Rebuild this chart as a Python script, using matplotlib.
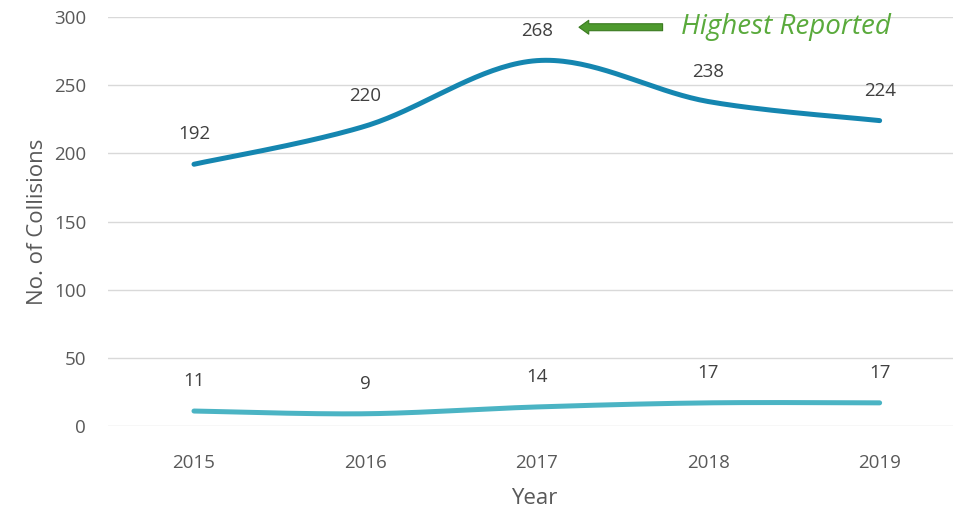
import numpy as np
import matplotlib.pyplot as plt

years = ['2015', '2016', '2017', '2018', '2019']
total = [192, 220, 268, 238, 224]
other = [11, 9, 14, 17, 17]


def smooth(y, n=40):
    # Excel-style smoothed line (Catmull-Rom through the points)
    y = np.asarray(y, dtype=float)
    x = np.arange(len(y), dtype=float)
    p = np.column_stack([x, y])
    p = np.vstack([p[0], p, p[-1]])
    out = []
    t = np.linspace(0, 1, n)[:, None]
    for i in range(1, len(p) - 2):
        p0, p1, p2, p3 = p[i - 1], p[i], p[i + 1], p[i + 2]
        c1 = p1 + (p2 - p0) / 6
        c2 = p2 - (p3 - p1) / 6
        seg = ((1 - t) ** 3) * p1 + 3 * ((1 - t) ** 2) * t * c1 + 3 * (1 - t) * t ** 2 * c2 + t ** 3 * p2
        out.append(seg)
    out = np.vstack(out)
    return out[:, 0], out[:, 1]


plt.rcParams['font.family'] = ['Open Sans', 'DejaVu Sans']
grey = '#595959'

fig = plt.figure(figsize=(9.54, 5.09), dpi=100)
ax = fig.add_axes([0.1135, 0.163, 0.893, 0.8036])

x1, y1 = smooth(total)
x2, y2 = smooth(other)
ax.plot(x1, y1, color='#1586B0', linewidth=3.6, solid_capstyle='round', zorder=3)
ax.plot(x2, y2, color='#4BB4C4', linewidth=3.6, solid_capstyle='round', zorder=3)

for i, v in enumerate(total):
    ax.annotate(str(v), (i, v), xytext=(0, 15), textcoords='offset points',
                ha='center', va='bottom', fontsize=13.5, color='#404040')
for i, v in enumerate(other):
    ax.annotate(str(v), (i, v), xytext=(0, 15), textcoords='offset points',
                ha='center', va='bottom', fontsize=13.5, color='#404040')

ax.annotate('', xy=(2.23, 292.5), xytext=(2.75, 292.5),
            arrowprops=dict(arrowstyle='simple,head_length=0.7,head_width=1.0,tail_width=0.5',
                            facecolor='#4E9A2E', edgecolor='#3A7A20', linewidth=0.8))
ax.text(2.84, 292.5, 'Highest Reported', style='italic', fontsize=20,
        color='#5AAA3C', ha='left', va='center')

ax.set_xlim(-0.5, 4.47)
ax.set_ylim(0, 300)
ax.set_yticks(range(0, 301, 50))
ax.set_xticks(range(len(years)))
ax.set_xticklabels(years)
ax.grid(axis='y', color='#D9D9D9', linewidth=1)
ax.set_axisbelow(True)
for s in ax.spines.values():
    s.set_visible(False)
ax.tick_params(length=0, labelsize=13.5, colors=grey, pad=20)
ax.tick_params(axis='y', pad=16)
ax.set_xlabel('Year', fontsize=16, color=grey, labelpad=12)
ax.set_ylabel('No. of Collisions', fontsize=16, color=grey, labelpad=4)

fig.savefig('out.png', dpi=100)
